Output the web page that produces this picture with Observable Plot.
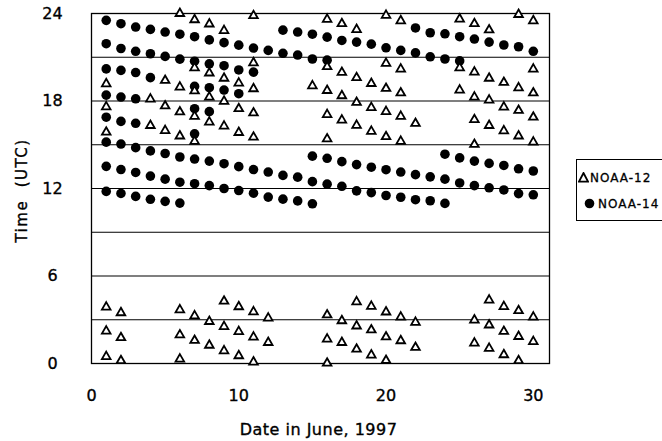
<!DOCTYPE html>
<html>
<head>
<meta charset="utf-8">
<script src="https://cdn.jsdelivr.net/npm/d3@7"></script>
<script src="https://cdn.jsdelivr.net/npm/@observablehq/plot@0.6"></script>
<style>
  html, body { margin: 0; padding: 0; background: #fff; }
  #wrap { position: relative; width: 662px; height: 441px; overflow: hidden; background: #fff; }
  #wrap svg text { stroke: #000; stroke-width: 0.35px; }
  #legend { position: absolute; left: 576px; top: 159px; width: 120px; height: 62px;
            border: 1px solid #000; box-sizing: border-box; font-family: "DejaVu Sans"; }
  .item { position: absolute; height: 14px; line-height: 14px; font-size: 12px;
          letter-spacing: 1px; color: #000; white-space: nowrap; -webkit-text-stroke: 0.3px #000; }
  .item svg { position: absolute; top: 1px; }
  .item span { position: absolute; top: 0; }
</style>
</head>
<body>
<div id="wrap"></div>
<script>
// Date in June 1997 (day index 1..30)
const dates = d3.range(1, 31);

// NOAA-12 pass times (UTC hours) for each day
const noaa12Times = [
  [0.47, 2.22, 3.87, 15.86, 17.6, 19.18],
  [0.19, 1.77, 3.48],
  [],
  [16.32, 18.13],
  [15.97, 17.66, 19.41],
  [0.3, 1.96, 3.68, 15.6, 17.25, 18.95, 24.0],
  [1.58, 3.27, 15.23, 16.95, 18.69, 20.27, 23.57],
  [1.25, 2.88, 16.55, 18.27, 19.92, 23.28],
  [0.87, 2.53, 4.27, 16.28, 17.98, 19.56, 22.83],
  [0.53, 2.19, 3.89, 15.84, 17.47, 19.23],
  [0.1, 1.81, 3.54, 15.52, 17.18, 18.84, 20.62, 23.85],
  [1.44, 3.11],
  [],
  [],
  [19.04],
  [0.02, 1.67, 3.33, 15.4, 17.07, 18.72, 20.35, 23.6],
  [1.44, 2.93, 16.69, 18.36, 19.96, 23.3],
  [0.98, 2.57, 4.23, 16.33, 17.9, 19.6, 22.9],
  [0.58, 2.3, 3.92, 15.92, 17.55, 19.2],
  [0.21, 1.82, 3.53, 15.55, 17.27, 18.86, 20.58, 23.87],
  [1.56, 3.18, 15.23, 16.95, 18.55, 20.19, 23.5],
  [1.1, 2.82, 16.46],
  [],
  [],
  [18.75, 20.27, 23.62],
  [1.4, 2.98, 15.02, 16.72, 18.27, 19.98, 23.3],
  [1.04, 2.64, 4.35, 16.32, 18.06, 19.56, 22.87],
  [0.6, 2.2, 3.9, 15.95, 17.58, 19.27],
  [0.19, 1.85, 3.62, 15.6, 17.35, 18.9, 23.93],
  [1.5, 3.18, 15.18, 16.89, 18.55, 20.19, 23.5]
];

// NOAA-14 pass times (UTC hours) for each day
const noaa14Times = [
  [11.8, 13.52, 15.18, 16.89, 18.4, 20.2, 21.93, 23.53],
  [11.66, 13.3, 15.05, 16.6, 18.27, 20.1, 21.6, 23.3],
  [11.46, 13.1, 14.8, 16.47, 18.15, 19.95, 21.41, 23.07],
  [11.26, 12.85, 14.58, 19.6, 21.24, 22.91],
  [11.12, 12.64, 14.4, 21.06, 22.73],
  [11.0, 12.43, 14.16, 20.87, 22.58],
  [12.33, 14.02, 15.75, 17.47, 19.0, 20.73, 22.41],
  [12.2, 13.88, 17.27, 18.91, 20.55, 22.19],
  [12.0, 13.7, 18.75, 20.42, 22.0],
  [11.86, 13.5, 18.5, 20.13, 21.83],
  [11.68, 13.3, 19.98, 21.63],
  [11.41, 13.13, 21.47],
  [11.27, 12.9, 21.27, 22.86],
  [11.15, 12.78, 21.15, 22.73],
  [10.95, 12.47, 14.22, 20.88, 22.58],
  [12.3, 14.07, 20.8, 22.38],
  [12.15, 13.84, 22.15],
  [11.84, 13.64, 22.04],
  [11.72, 13.46, 21.9],
  [11.52, 13.29, 21.65],
  [11.4, 13.13, 21.47],
  [11.23, 12.95, 21.3, 23.01],
  [11.16, 12.8, 21.03, 22.68],
  [10.98, 12.64, 14.35, 20.88, 22.61],
  [12.38, 14.1, 20.75, 22.41],
  [12.2, 13.88, 22.25],
  [12.05, 13.72, 22.04],
  [11.9, 13.58, 21.84],
  [11.65, 13.35, 21.72],
  [11.57, 13.2, 21.41]
];

const xTicks = [0, 10, 20, 30];
const yTicks = [0, 6, 12, 18, 24];
const gridHours = [3, 6, 9, 12, 15, 18, 21];
const seriesNames = ["NOAA-12", "NOAA-14"];
const xLabel = "Date in June, 1997";
const yLabel = "Time (UTC)";

const toRows = (times) => dates.flatMap((day, i) => times[i].map(t => ({day, time: t})));
const n12 = toRows(noaa12Times);
const n14 = toRows(noaa14Times);

// wide gap between the words, as in the original figure
const yLabelShown = yLabel.replace(" ", "\u00a0\u00a0");

const chart = Plot.plot({
  width: 662,
  height: 441,
  marginLeft: 91,
  marginRight: 113,
  marginTop: 13,
  marginBottom: 78,
  x: {domain: [0, 31.1]},
  y: {domain: [0, 24]},
  style: {fontFamily: "DejaVu Sans", fontSize: "16px", color: "#000", background: "#fff"},
  marks: [
    Plot.ruleY(gridHours, {stroke: "#000", strokeWidth: 1.1}),
    Plot.frame({stroke: "#000", strokeWidth: 1.3}),
    Plot.axisX({ticks: xTicks, tickSize: 0, tickPadding: 26, label: null, fontSize: 16}),
    Plot.axisY({ticks: yTicks, tickSize: 0, tickPadding: 39, textAnchor: "middle", label: null, fontSize: 16}),
    Plot.dot(n14, {x: "day", y: "time", r: 4.8, fill: "#000", stroke: "none"}),
    Plot.dot(n12, {x: "day", y: "time", symbol: "triangle", r: 3.2, fill: "#fff", stroke: "#000", strokeWidth: 1.8}),
    Plot.text([xLabel], {frameAnchor: "bottom", textAnchor: "middle", lineAnchor: "middle", dy: 66, dx: -2, fontSize: 16}),
    Plot.text([yLabelShown], {frameAnchor: "left", textAnchor: "middle", lineAnchor: "middle", rotate: -90, dx: -69, dy: 2, fontSize: 15})
  ]
});

d3.select(chart).selectAll("text")
  .filter(function() { return this.textContent === xLabel; })
  .style("letter-spacing", "0.5px");
d3.select(chart).selectAll("text")
  .filter(function() { return this.textContent === yLabelShown; })
  .style("letter-spacing", "1.5px");

const wrap = document.getElementById("wrap");
wrap.appendChild(chart);

// legend
const legend = document.createElement("div");
legend.id = "legend";
const triSvg = '<svg width="11" height="11" viewBox="0 0 11 11"><path d="M5.5,1 L10,9.6 L1,9.6 Z" fill="#fff" stroke="#000" stroke-width="1.8"/></svg>';
const dotSvg = '<svg width="11" height="11" viewBox="0 0 11 11"><circle cx="5.5" cy="5.5" r="4.8" fill="#000"/></svg>';
const items = [
  {name: seriesNames[0], svg: triSvg, left: 1, top: 11, textLeft: 13},
  {name: seriesNames[1], svg: dotSvg, left: 7, top: 37, textLeft: 21}
];
for (const it of items) {
  const d = document.createElement("div");
  d.className = "item";
  d.style.left = it.left + "px";
  d.style.top = it.top + "px";
  d.innerHTML = it.svg + '<span style="left:' + (it.textLeft - it.left) + 'px">' + it.name + '</span>';
  legend.appendChild(d);
}
wrap.appendChild(legend);
</script>
</body>
</html>
